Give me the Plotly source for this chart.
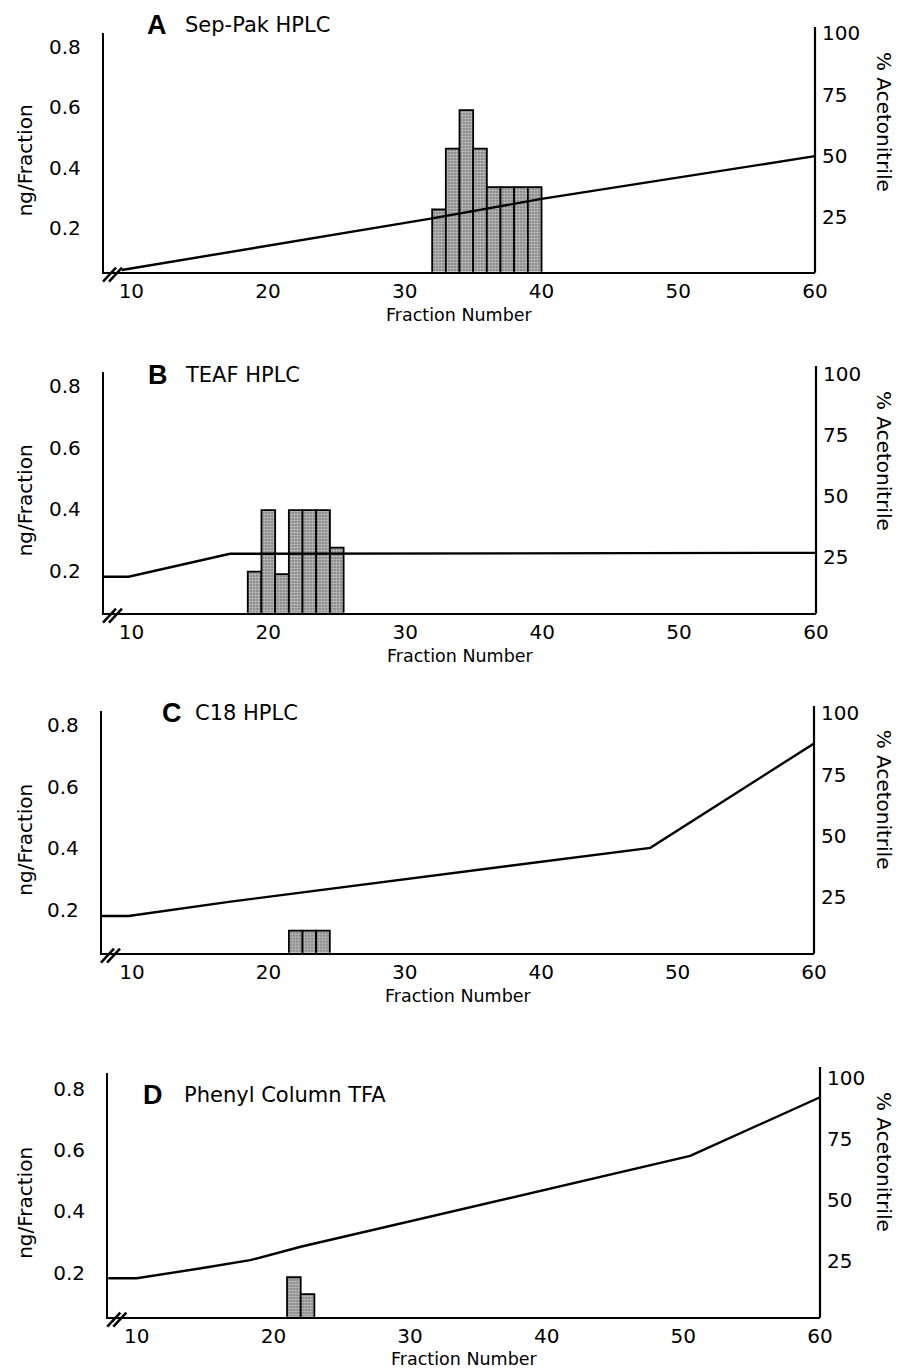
import plotly.graph_objects as go

# ---------------- data ----------------
panel_letters = ["A", "B", "C", "D"]
panel_names = ["Sep-Pak HPLC", "TEAF HPLC", "C18 HPLC", "Phenyl Column TFA"]

fractions_A = [32, 33, 34, 35, 36, 37, 38, 39]
ng_A = [0.262, 0.463, 0.59, 0.463, 0.336, 0.336, 0.336, 0.336]
grad_x_A = [9.3, 32, 40, 60]
grad_y_A = [3.2, 24.3, 32.3, 49.8]

fractions_B = [19, 20, 21, 22, 23, 24, 25]
ng_B = [0.197, 0.397, 0.189, 0.397, 0.397, 0.397, 0.275]
grad_x_B = [8, 9.8, 17.2, 60]
grad_y_B = [17.0, 17.0, 26.4, 26.8]

fractions_C = [22, 23, 24]
ng_C = [0.133, 0.133, 0.133]
grad_x_C = [7.8, 9.75, 17.1, 48, 60]
grad_y_C = [17.1, 17.1, 22.9, 45.0, 87.7]

fractions_D = [21, 22]
ng_D = [0.185, 0.13]
grad_x_D = [7.9, 10, 14.6, 18.3, 22, 50.5, 60]
grad_y_D = [18.0, 18.0, 22.0, 25.4, 30.9, 68.0, 92.0]

x_ticks = [10, 20, 30, 40, 50, 60]
ng_ticks = [0.2, 0.4, 0.6, 0.8]
pct_ticks = [25, 50, 75, 100]

# ---------------- layout geometry (pixels) ----------------
W, H = 901, 1370
panels = [
    dict(fr=fractions_A, ng=ng_A, gx=grad_x_A, gy=grad_y_A, off=0.0,
         xl=104, xr=815, yt=33, yb=271.7, xr_=[8, 60], y1=[0.0566, 0.845], y2=[2.5, 100.2],
         rtop=27, let=(157, 25), nm=(183, 25)),
    dict(fr=fractions_B, ng=ng_B, gx=grad_x_B, gy=grad_y_B, off=-0.5,
         xl=104, xr=816, yt=372, yb=612.7, xr_=[8, 60], y1=[0.0636, 0.8455], y2=[2.3, 100.8],
         rtop=366, let=(157.5, 375), nm=(183, 375)),
    dict(fr=fractions_C, ng=ng_C, gx=grad_x_C, gy=grad_y_C, off=-0.5,
         xl=102, xr=814, yt=710.7, yb=952.7, xr_=[7.8, 60], y1=[0.0615, 0.846], y2=[2.1, 101.1],
         rtop=706, let=(172, 713), nm=(193, 713)),
    dict(fr=fractions_D, ng=ng_D, gx=grad_x_D, gy=grad_y_D, off=0.0,
         xl=108.3, xr=820, yt=1073, yb=1316.7, xr_=[7.92, 60], y1=[0.0562, 0.852], y2=[2.3, 101.9],
         rtop=1067, let=(152.5, 1095), nm=(182, 1095)),
]

def px(x):
    return x / W

def py(y):
    return 1 - y / H

FONT = "DejaVu Sans"
fig = go.Figure()
layout = dict(width=W, height=H, margin=dict(l=0, r=0, t=0, b=0, autoexpand=False),
              paper_bgcolor="white", plot_bgcolor="white", showlegend=False,
              bargap=0, font=dict(family=FONT, size=20, color="black"))
shapes = []
annotations = []

for i, p in enumerate(panels):
    xa = "x" if i == 0 else f"x{i+1}"
    ya = "y" if i == 0 else f"y{2*i+1}"
    yb2 = f"y{2*i+2}"
    fig.add_trace(go.Bar(
        x=p["fr"], y=p["ng"], xaxis=xa, yaxis=ya, width=1, offset=p["off"],
        marker=dict(color="#7a7a7a", line=dict(color="black", width=1.8),
                    pattern=dict(shape=".", fgcolor="white", bgcolor="#7a7a7a",
                                 size=3, solidity=0.6)),
    ))
    fig.add_trace(go.Scatter(
        x=p["gx"], y=p["gy"], xaxis=xa, yaxis=yb2, mode="lines",
        line=dict(color="black", width=2.4), cliponaxis=False,
    ))
    xk = "xaxis" if i == 0 else f"xaxis{i+1}"
    yk = "yaxis" if i == 0 else f"yaxis{2*i+1}"
    y2k = f"yaxis{2*i+2}"
    layout[xk] = dict(domain=[px(p["xl"]), px(p["xr"])], range=p["xr_"], anchor=ya,
                      tickvals=x_ticks, showgrid=False, zeroline=False, automargin=False,
                      showline=True, linecolor="black", linewidth=2.2, ticks="", ticklen=0,
                      ticklabelstandoff=0, tickfont=dict(family=FONT, size=20))
    layout[yk] = dict(domain=[py(p["yb"]), py(p["yt"])], range=p["y1"], anchor=xa,
                      tickvals=ng_ticks, ticktext=[f"{v:.1f}" for v in ng_ticks],
                      showgrid=False, zeroline=False, showline=True, linecolor="black",
                      linewidth=2.2, ticks="", ticklen=0, ticklabelstandoff=17, automargin=False,
                      tickfont=dict(family=FONT, size=20))
    layout[y2k] = dict(overlaying=ya, side="right", anchor=xa, range=p["y2"],
                       tickvals=pct_ticks, showgrid=False, zeroline=False, automargin=False,
                       showline=False, ticks="", ticklen=0, ticklabelstandoff=6,
                       tickfont=dict(family=FONT, size=20))
    # right axis line (taller than the left one)
    shapes.append(dict(type="line", xref="paper", yref="paper",
                       x0=px(p["xr"]), x1=px(p["xr"]), y0=py(p["yb"] + 1), y1=py(p["rtop"]),
                       line=dict(color="black", width=2.2)))
    # axis break marks
    cx, cy = p["xl"], p["yb"]
    for dx in (0, 6):
        shapes.append(dict(type="line", xref="paper", yref="paper",
                           x0=px(cx - 1 + dx), y0=py(cy + 10), x1=px(cx + 12 + dx), y1=py(cy - 4),
                           line=dict(color="black", width=2.5)))
    # titles
    annotations.append(dict(x=px(p["let"][0]), y=py(p["let"][1]), xref="paper", yref="paper",
                            text=f"<b>{panel_letters[i]}</b>", showarrow=False,
                            xanchor="center", yanchor="middle",
                            font=dict(family="Liberation Sans", size=27, color="black")))
    annotations.append(dict(x=px(p["nm"][0]), y=py(p["nm"][1]), xref="paper", yref="paper",
                            text=panel_names[i], showarrow=False,
                            xanchor="left", yanchor="middle",
                            font=dict(family=FONT, size=21, color="black")))
    mid = (p["yt"] + p["yb"]) / 2
    annotations.append(dict(x=px(25), y=py(mid + 8), xref="paper", yref="paper",
                            text="ng/Fraction", showarrow=False, textangle=-90,
                            xanchor="center", yanchor="middle",
                            font=dict(family=FONT, size=20, color="black")))
    annotations.append(dict(x=px(884), y=py(p["yt"] + 89), xref="paper", yref="paper",
                            text="% Acetonitrile", showarrow=False, textangle=90,
                            xanchor="center", yanchor="middle",
                            font=dict(family=FONT, size=20, color="black")))
    annotations.append(dict(x=px((p["xl"] + p["xr"]) / 2), y=py(min(p["yb"] + 43, 1359)),
                            xref="paper", yref="paper",
                            text="Fraction Number", showarrow=False,
                            xanchor="center", yanchor="middle",
                            font=dict(family=FONT, size=17.5, color="black")))

layout["shapes"] = shapes
layout["annotations"] = annotations
fig.update_layout(**layout)
fig.write_html("out.html", config={"displayModeBar": False, "staticPlot": True},
               post_script="document.body.style.margin='0';document.body.style.overflow='hidden';")
